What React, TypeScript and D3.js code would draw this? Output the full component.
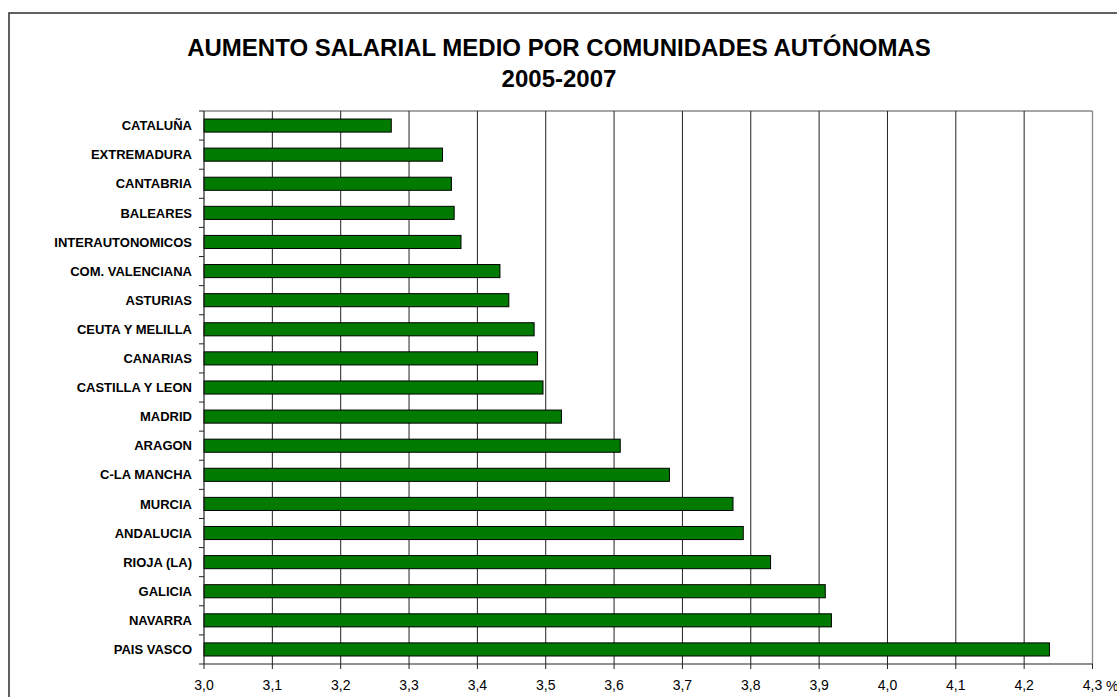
import React from "react";
import * as d3 from "d3";

const categories = [
  "CATALUÑA",
  "EXTREMADURA",
  "CANTABRIA",
  "BALEARES",
  "INTERAUTONOMICOS",
  "COM. VALENCIANA",
  "ASTURIAS",
  "CEUTA Y MELILLA",
  "CANARIAS",
  "CASTILLA Y LEON",
  "MADRID",
  "ARAGON",
  "C-LA MANCHA",
  "MURCIA",
  "ANDALUCIA",
  "RIOJA (LA)",
  "GALICIA",
  "NAVARRA",
  "PAIS VASCO",
];

const values = [
  3.274, 3.349, 3.362, 3.366, 3.376, 3.433, 3.446, 3.483, 3.488, 3.496, 3.523,
  3.609, 3.681, 3.774, 3.789, 3.829, 3.909, 3.918, 4.237,
];

const xTicks = [3.0, 3.1, 3.2, 3.3, 3.4, 3.5, 3.6, 3.7, 3.8, 3.9, 4.0, 4.1, 4.2, 4.3];

const titleLines = ["AUMENTO SALARIAL MEDIO POR COMUNIDADES AUTÓNOMAS", "2005-2007"];

export default function App() {
  const W = 1117;
  const H = 697;
  const left = 204;
  const right = 1092.5;
  const top = 111;
  const bottom = 664;

  const x = d3.scaleLinear().domain([3.0, 4.3]).range([left, right]);
  const y = d3.scaleBand<string>().domain(categories).range([top, bottom]).paddingInner(0.55).paddingOuter(0.275);
  const step = (bottom - top) / categories.length;
  const font = "'Liberation Sans', Arial, sans-serif";
  const fmt = (v: number) => v.toFixed(1).replace(".", ",");

  return (
    <svg width={W} height={H} style={{ position: "absolute", left: 0, top: 0, background: "#fff" }}>
      <rect x={0} y={0} width={W} height={H} fill="#fff" />
      <rect x={9} y={13} width={W + 20} height={H + 20} fill="none" stroke="#3a3a3a" strokeWidth={1.6} />
      {titleLines.map((t, i) => (
        <text key={i} x={559} y={56 + i * 31} textAnchor="middle" fontFamily={font} fontWeight="bold" fontSize={24} fill="#000">
          {t}
        </text>
      ))}
      {/* plot border */}
      <line x1={left} x2={right} y1={top} y2={top} stroke="#888" strokeWidth={1.3} />
      <line x1={right} x2={right} y1={top} y2={bottom} stroke="#888" strokeWidth={1.3} />
      {/* gridlines */}
      {xTicks.slice(1, -1).map((t) => (
        <line key={t} x1={x(t)} x2={x(t)} y1={top} y2={bottom} stroke="#222" strokeWidth={1} />
      ))}
      {/* bars */}
      {categories.map((c, i) => (
        <rect
          key={c}
          x={x(3.0)}
          y={y(c)!}
          width={x(values[i]) - x(3.0)}
          height={y.bandwidth()}
          fill="#007a00"
          stroke="#000"
          strokeWidth={1}
        />
      ))}
      {/* axes */}
      <line x1={left} x2={left} y1={top} y2={bottom} stroke="#222" strokeWidth={1.2} />
      <line x1={left} x2={right} y1={bottom} y2={bottom} stroke="#222" strokeWidth={1.2} />
      {d3.range(categories.length + 1).map((i) => (
        <line key={i} x1={left - 5} x2={left} y1={top + i * step} y2={top + i * step} stroke="#222" strokeWidth={1} />
      ))}
      {xTicks.map((t) => (
        <line key={t} x1={x(t)} x2={x(t)} y1={bottom} y2={bottom + 5} stroke="#222" strokeWidth={1} />
      ))}
      {categories.map((c) => (
        <text
          key={c}
          x={192}
          y={y(c)! + y.bandwidth() / 2}
          dy="0.36em"
          textAnchor="end"
          fontFamily={font}
          fontWeight="bold"
          fontSize={13}
          fill="#000"
        >
          {c}
        </text>
      ))}
      {xTicks.map((t) => (
        <text key={t} x={x(t)} y={690} textAnchor="middle" fontFamily={font} fontSize={14} fill="#000">
          {fmt(t)}
        </text>
      ))}
      <text x={1106} y={691} fontFamily={font} fontSize={14} fill="#000">
        %
      </text>
    </svg>
  );
}
